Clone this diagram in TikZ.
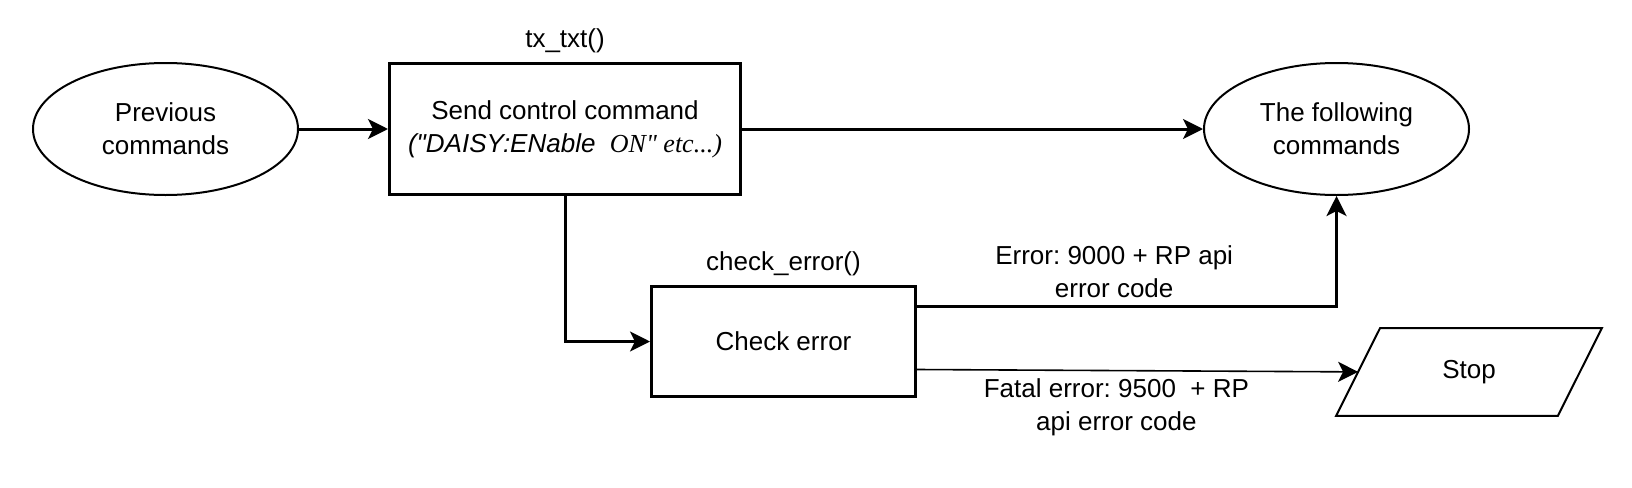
\documentclass[tikz,border=0pt]{standalone}
\usepackage{fontspec}
\setmainfont{Liberation Sans}
\newfontfamily\plainsans{Liberation Sans}[Ligatures=TeXOff]
\newfontfamily\timesfont{Liberation Serif}[Ligatures=TeXOff]
\usetikzlibrary{arrows.meta,positioning,shapes.geometric}

\begin{document}
\begin{tikzpicture}[>={Stealth[length=10pt,width=10pt,inset=2.5pt]},
    font=\fontsize{13}{16.5}\selectfont\frenchspacing,
    term/.style={ellipse,draw,line width=1pt,minimum width=132.5pt,minimum height=66pt,inner sep=0pt,align=center},
    proc/.style={rectangle,draw,line width=1.5pt,inner sep=0pt,align=center},
    halt/.style={rectangle,minimum width=132.5pt,minimum height=43.5pt,inner sep=0pt},
    flow/.style={->,line width=1.5pt}]

                \useasboundingbox (0,0) rectangle (816pt,-243.5pt);

                \node[term] (prev) at (82.75pt,-64.5pt) {Previous\\commands};

                \node[proc,minimum width=175.5pt,minimum height=65.5pt] (send) [right=44.5pt of prev]
                    {Send control command\\{\plainsans\itshape ("DAISY:ENable\ \ }{\timesfont\itshape ON" etc...)}};

                \node[term] (next) [right=230.5pt of send] {The following\\commands};

                \node[proc,minimum width=132pt,minimum height=55pt] (check) [below=44.5pt of send.south,xshift=109.25pt] {Check error};

                \node[halt] (stop) [below=66pt of next.south,xshift=66.25pt] {Stop};
                % parallelogram round the stop node
                \draw[line width=1pt] (stop.south west) -- ([xshift=22pt]stop.north west)
                    -- (stop.north east) -- ([xshift=-22pt]stop.south east) -- cycle;
                \coordinate (stopin) at ([xshift=11pt]stop.west);

                \node (sendname) at ([yshift=10.5pt]send.north) {tx\_txt()};
                \node (checkname) at ([yshift=10.5pt]check.north) {check\_error()};

                \draw[flow] (prev) -- (send);
                \draw[flow] (send) -- (next);
                \draw[flow] (send.south) |- (check.west);

                \draw[flow] ([yshift=17.5pt]check.east) -| node[pos=0.235,yshift=17.25pt,align=center] (errtxt)
                    {Error: 9000 + RP api\\error code} (next.south);

                \draw[->,line width=0.8pt] ([yshift=-14pt]check.east) -- node[pos=0.452,yshift=-18.25pt,align=center] (fataltxt)
                    {Fatal error: 9500\ \ + RP\\api error code} (stopin);

            \end{tikzpicture}
\end{document}
